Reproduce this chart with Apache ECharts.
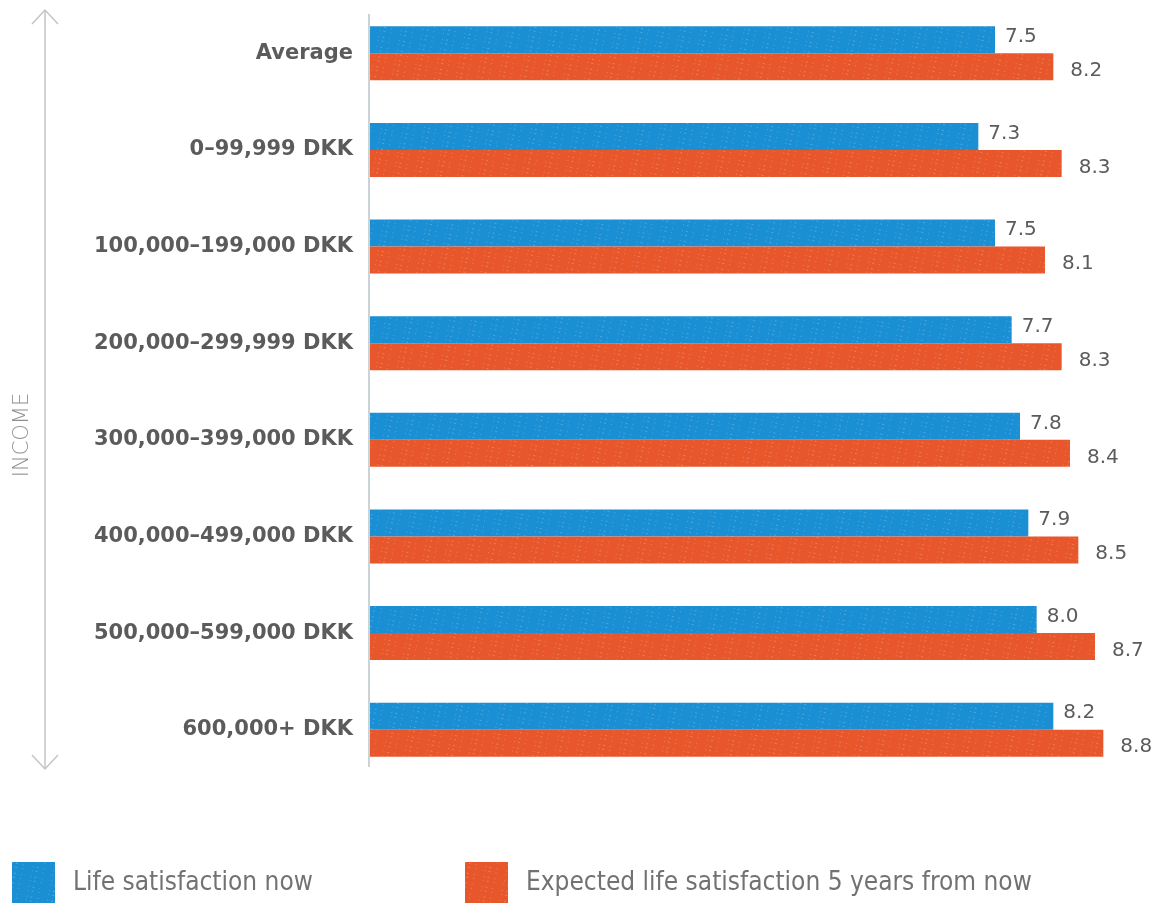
<!DOCTYPE html>
<html>
<head>
<meta charset="utf-8">
<style>
  html, body { margin: 0; padding: 0; background: #ffffff; }
  #chart { width: 1166px; height: 903px; }
</style>
<script src="https://cdn.jsdelivr.net/npm/echarts@6/dist/echarts.min.js"></script>
</head>
<body>
<div id="chart"></div>
<script>
// Income brackets, top to bottom
const categories = [
  'Average',
  '0–99,999 DKK',
  '100,000–199,000 DKK',
  '200,000–299,999 DKK',
  '300,000–399,000 DKK',
  '400,000–499,000 DKK',
  '500,000–599,000 DKK',
  '600,000+ DKK'
];
const seriesNames = ['Life satisfaction now', 'Expected life satisfaction 5 years from now'];
const satisfactionNow = [7.5, 7.3, 7.5, 7.7, 7.8, 7.9, 8.0, 8.2];
const satisfactionIn5Years = [8.2, 8.3, 8.1, 8.3, 8.4, 8.5, 8.7, 8.8];
const axisTitle = 'INCOME';

const BLUE = '#1a8fd4';
const ORANGE = '#e8572b';
const TEXT = '#5b5b5b';
const WIDE_FONT = '"DejaVu Sans", Verdana, sans-serif';
const NARROW_FONT = '"Liberation Sans Narrow", "DejaVu Sans Condensed", Lato, sans-serif';

// speckled print texture laid over the bars
const grain = {
  symbol: 'rect',
  symbolSize: 1,
  color: 'rgba(255,255,255,0.22)',
  dashArrayX: [[1, 3, 2, 5, 1, 9]],
  dashArrayY: [1, 3, 1, 5],
  rotation: 0.2
};

const legendText = { color: '#727272', fontSize: 26, fontFamily: NARROW_FONT, padding: [5, 0, 0, 13] };

const chart = echarts.init(document.getElementById('chart'), null, { renderer: 'canvas' });

chart.setOption({
  animation: false,
  backgroundColor: '#ffffff',
  textStyle: { fontFamily: WIDE_FONT },
  grid: { left: 370, top: 5, width: 750, height: 773, containLabel: false },
  xAxis: {
    type: 'value',
    min: 0,
    max: 9,
    show: false
  },
  yAxis: {
    type: 'category',
    data: categories,
    inverse: true,
    axisLine: { show: false },
    axisTick: { show: false },
    splitLine: { show: false },
    axisLabel: {
      margin: 17,
      color: TEXT,
      fontSize: 21,
      fontWeight: 'bold',
      fontFamily: WIDE_FONT,
      padding: [0, 0, 4, 0]
    }
  },
  legend: [
    {
      data: [seriesNames[0]],
      left: 12,
      top: 862,
      padding: 0,
      itemWidth: 43,
      itemHeight: 42,
      icon: 'rect',
      selectedMode: false,
      textStyle: legendText
    },
    {
      data: [seriesNames[1]],
      left: 465,
      top: 862,
      padding: 0,
      itemWidth: 43,
      itemHeight: 42,
      icon: 'rect',
      selectedMode: false,
      textStyle: legendText
    }
  ],
  series: [
    {
      name: seriesNames[0],
      type: 'bar',
      data: satisfactionNow,
      barWidth: 27,
      barGap: '0%',
      itemStyle: { color: BLUE, decal: grain },
      label: {
        show: true,
        position: 'right',
        distance: 10,
        offset: [0, -3],
        color: TEXT,
        fontSize: 20,
        fontFamily: WIDE_FONT,
        formatter: p => p.value.toFixed(1)
      }
    },
    {
      name: seriesNames[1],
      type: 'bar',
      data: satisfactionIn5Years,
      barWidth: 27,
      itemStyle: { color: ORANGE, decal: grain },
      label: {
        show: true,
        position: 'right',
        distance: 17,
        offset: [0, 4],
        color: TEXT,
        fontSize: 20,
        fontFamily: WIDE_FONT,
        formatter: p => p.value.toFixed(1)
      }
    }
  ],
  graphic: [
    // category axis baseline
    {
      type: 'line',
      shape: { x1: 369, y1: 14, x2: 369, y2: 767 },
      style: { stroke: '#a9b6bd', lineWidth: 1.2 }
    },
    // double-headed income arrow
    {
      type: 'line',
      shape: { x1: 45, y1: 10, x2: 45, y2: 769 },
      style: { stroke: '#c4c4c4', lineWidth: 1.5 }
    },
    {
      type: 'polyline',
      shape: { points: [[32, 24], [45, 10], [58, 24]] },
      style: { stroke: '#c4c4c4', lineWidth: 1.5, fill: null }
    },
    {
      type: 'polyline',
      shape: { points: [[32, 755], [45, 769], [58, 755]] },
      style: { stroke: '#c4c4c4', lineWidth: 1.5, fill: null }
    },
    {
      type: 'text',
      x: 23,
      y: 435,
      rotation: Math.PI / 2,
      style: {
        text: axisTitle,
        fill: '#8f8f8f',
        fontSize: 21,
        fontWeight: 200,
        fontFamily: WIDE_FONT,
        align: 'center',
        verticalAlign: 'middle'
      }
    }
  ]
});
</script>
</body>
</html>
